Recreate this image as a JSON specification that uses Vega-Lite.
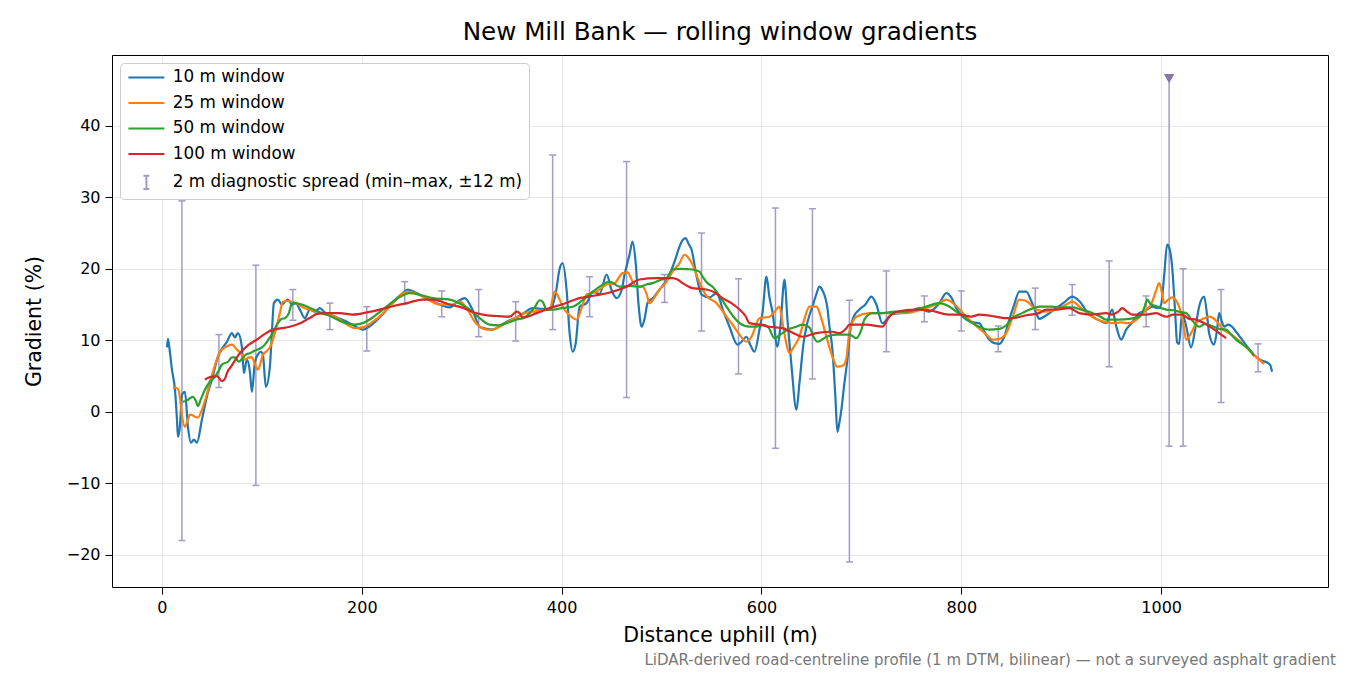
{
  "$schema": "https://vega.github.io/schema/vega-lite/v6.json",
  "title": {
    "text": "New Mill Bank — rolling window gradients",
    "fontSize": 24.6,
    "fontWeight": "normal",
    "color": "#000000",
    "anchor": "middle",
    "offset": 9
  },
  "width": 1216,
  "height": 532,
  "autosize": {"type": "none"},
  "padding": {"left": 112, "top": 55, "right": 22, "bottom": 88},
  "background": "#FFFFFF",
  "datasets": {
    "lines": [
      {"series": "10 m window", "d": 5, "g": 9.0},
      {"series": "10 m window", "d": 6, "g": 10.2},
      {"series": "10 m window", "d": 8, "g": 8.3},
      {"series": "10 m window", "d": 10, "g": 5.9},
      {"series": "10 m window", "d": 13, "g": 3.1},
      {"series": "10 m window", "d": 15, "g": -1.0},
      {"series": "10 m window", "d": 16, "g": -3.5},
      {"series": "10 m window", "d": 18, "g": -2.0},
      {"series": "10 m window", "d": 20, "g": 2.4},
      {"series": "10 m window", "d": 23, "g": 2.8},
      {"series": "10 m window", "d": 26, "g": -2.1},
      {"series": "10 m window", "d": 29, "g": -4.3},
      {"series": "10 m window", "d": 32, "g": -3.9},
      {"series": "10 m window", "d": 35, "g": -4.3},
      {"series": "10 m window", "d": 40, "g": -1.1},
      {"series": "10 m window", "d": 46, "g": 2.7},
      {"series": "10 m window", "d": 50, "g": 4.5},
      {"series": "10 m window", "d": 56, "g": 7.7},
      {"series": "10 m window", "d": 60, "g": 8.8},
      {"series": "10 m window", "d": 65, "g": 9.8},
      {"series": "10 m window", "d": 70, "g": 11.0},
      {"series": "10 m window", "d": 73, "g": 10.4},
      {"series": "10 m window", "d": 76, "g": 11.0},
      {"series": "10 m window", "d": 80, "g": 9.1},
      {"series": "10 m window", "d": 82, "g": 5.4},
      {"series": "10 m window", "d": 85, "g": 7.3},
      {"series": "10 m window", "d": 88, "g": 5.6},
      {"series": "10 m window", "d": 90, "g": 2.8},
      {"series": "10 m window", "d": 93, "g": 6.9},
      {"series": "10 m window", "d": 96, "g": 8.0},
      {"series": "10 m window", "d": 99, "g": 8.4},
      {"series": "10 m window", "d": 101, "g": 8.0},
      {"series": "10 m window", "d": 104, "g": 3.5},
      {"series": "10 m window", "d": 108, "g": 6.3},
      {"series": "10 m window", "d": 110, "g": 11.0},
      {"series": "10 m window", "d": 112, "g": 15.2},
      {"series": "10 m window", "d": 116, "g": 15.7},
      {"series": "10 m window", "d": 120, "g": 15.0},
      {"series": "10 m window", "d": 123, "g": 15.4},
      {"series": "10 m window", "d": 126, "g": 15.7},
      {"series": "10 m window", "d": 130, "g": 15.0},
      {"series": "10 m window", "d": 134, "g": 15.2},
      {"series": "10 m window", "d": 138, "g": 14.3},
      {"series": "10 m window", "d": 143, "g": 13.1},
      {"series": "10 m window", "d": 148, "g": 14.3},
      {"series": "10 m window", "d": 153, "g": 14.0},
      {"series": "10 m window", "d": 158, "g": 14.5},
      {"series": "10 m window", "d": 163, "g": 13.9},
      {"series": "10 m window", "d": 168, "g": 13.6},
      {"series": "10 m window", "d": 175, "g": 13.2},
      {"series": "10 m window", "d": 185, "g": 12.6},
      {"series": "10 m window", "d": 193, "g": 12.0},
      {"series": "10 m window", "d": 201, "g": 11.5},
      {"series": "10 m window", "d": 210, "g": 12.2},
      {"series": "10 m window", "d": 220, "g": 13.5},
      {"series": "10 m window", "d": 230, "g": 15.2},
      {"series": "10 m window", "d": 240, "g": 16.5},
      {"series": "10 m window", "d": 246, "g": 17.1},
      {"series": "10 m window", "d": 255, "g": 16.6},
      {"series": "10 m window", "d": 265, "g": 15.8},
      {"series": "10 m window", "d": 278, "g": 15.0},
      {"series": "10 m window", "d": 288, "g": 14.6},
      {"series": "10 m window", "d": 295, "g": 15.3},
      {"series": "10 m window", "d": 303, "g": 15.9},
      {"series": "10 m window", "d": 310, "g": 14.5},
      {"series": "10 m window", "d": 318, "g": 11.9},
      {"series": "10 m window", "d": 325, "g": 11.6},
      {"series": "10 m window", "d": 331, "g": 11.5},
      {"series": "10 m window", "d": 338, "g": 12.0},
      {"series": "10 m window", "d": 345, "g": 12.6},
      {"series": "10 m window", "d": 355, "g": 13.2},
      {"series": "10 m window", "d": 363, "g": 13.9},
      {"series": "10 m window", "d": 371, "g": 14.5},
      {"series": "10 m window", "d": 380, "g": 14.4},
      {"series": "10 m window", "d": 388, "g": 14.3},
      {"series": "10 m window", "d": 394, "g": 16.5},
      {"series": "10 m window", "d": 398, "g": 20.0},
      {"series": "10 m window", "d": 401, "g": 20.8},
      {"series": "10 m window", "d": 405, "g": 17.0},
      {"series": "10 m window", "d": 408, "g": 11.0},
      {"series": "10 m window", "d": 411, "g": 8.4},
      {"series": "10 m window", "d": 414, "g": 9.5},
      {"series": "10 m window", "d": 418, "g": 14.7},
      {"series": "10 m window", "d": 425, "g": 15.2},
      {"series": "10 m window", "d": 431, "g": 16.8},
      {"series": "10 m window", "d": 438, "g": 16.5},
      {"series": "10 m window", "d": 445, "g": 19.2},
      {"series": "10 m window", "d": 450, "g": 17.0},
      {"series": "10 m window", "d": 455, "g": 15.9},
      {"series": "10 m window", "d": 460, "g": 17.0},
      {"series": "10 m window", "d": 463, "g": 19.2},
      {"series": "10 m window", "d": 468, "g": 22.0},
      {"series": "10 m window", "d": 471, "g": 23.8},
      {"series": "10 m window", "d": 474, "g": 21.0},
      {"series": "10 m window", "d": 477, "g": 15.0},
      {"series": "10 m window", "d": 480, "g": 11.9},
      {"series": "10 m window", "d": 483, "g": 13.0},
      {"series": "10 m window", "d": 486, "g": 15.2},
      {"series": "10 m window", "d": 492, "g": 16.0},
      {"series": "10 m window", "d": 498, "g": 17.1},
      {"series": "10 m window", "d": 503, "g": 18.0},
      {"series": "10 m window", "d": 508, "g": 19.2},
      {"series": "10 m window", "d": 513, "g": 21.0},
      {"series": "10 m window", "d": 518, "g": 23.1},
      {"series": "10 m window", "d": 521, "g": 24.0},
      {"series": "10 m window", "d": 524, "g": 24.3},
      {"series": "10 m window", "d": 527, "g": 23.5},
      {"series": "10 m window", "d": 530, "g": 22.7},
      {"series": "10 m window", "d": 535, "g": 19.0},
      {"series": "10 m window", "d": 540, "g": 16.4},
      {"series": "10 m window", "d": 548, "g": 16.0},
      {"series": "10 m window", "d": 555, "g": 16.6},
      {"series": "10 m window", "d": 562, "g": 14.0},
      {"series": "10 m window", "d": 568, "g": 11.9},
      {"series": "10 m window", "d": 576, "g": 9.4},
      {"series": "10 m window", "d": 580, "g": 9.8},
      {"series": "10 m window", "d": 585, "g": 10.5},
      {"series": "10 m window", "d": 589, "g": 9.3},
      {"series": "10 m window", "d": 593, "g": 8.4},
      {"series": "10 m window", "d": 598, "g": 11.5},
      {"series": "10 m window", "d": 601, "g": 13.8},
      {"series": "10 m window", "d": 605, "g": 18.9},
      {"series": "10 m window", "d": 608, "g": 16.0},
      {"series": "10 m window", "d": 611, "g": 14.0},
      {"series": "10 m window", "d": 616, "g": 9.1},
      {"series": "10 m window", "d": 619, "g": 12.0},
      {"series": "10 m window", "d": 623, "g": 18.5},
      {"series": "10 m window", "d": 626, "g": 12.9},
      {"series": "10 m window", "d": 630, "g": 6.5},
      {"series": "10 m window", "d": 635, "g": 0.3},
      {"series": "10 m window", "d": 638, "g": 4.0},
      {"series": "10 m window", "d": 642, "g": 9.5},
      {"series": "10 m window", "d": 645, "g": 11.9},
      {"series": "10 m window", "d": 648, "g": 13.5},
      {"series": "10 m window", "d": 651, "g": 14.7},
      {"series": "10 m window", "d": 655, "g": 16.5},
      {"series": "10 m window", "d": 658, "g": 17.5},
      {"series": "10 m window", "d": 661, "g": 17.0},
      {"series": "10 m window", "d": 666, "g": 14.5},
      {"series": "10 m window", "d": 668, "g": 12.0},
      {"series": "10 m window", "d": 671, "g": 8.7},
      {"series": "10 m window", "d": 674, "g": 2.0},
      {"series": "10 m window", "d": 676, "g": -2.8},
      {"series": "10 m window", "d": 678, "g": -1.5},
      {"series": "10 m window", "d": 680, "g": 0.3},
      {"series": "10 m window", "d": 683, "g": 4.0},
      {"series": "10 m window", "d": 686, "g": 7.3},
      {"series": "10 m window", "d": 689, "g": 11.5},
      {"series": "10 m window", "d": 693, "g": 13.5},
      {"series": "10 m window", "d": 698, "g": 14.3},
      {"series": "10 m window", "d": 704, "g": 15.0},
      {"series": "10 m window", "d": 710, "g": 16.1},
      {"series": "10 m window", "d": 715, "g": 15.0},
      {"series": "10 m window", "d": 721, "g": 12.4},
      {"series": "10 m window", "d": 730, "g": 13.6},
      {"series": "10 m window", "d": 738, "g": 13.8},
      {"series": "10 m window", "d": 748, "g": 14.0},
      {"series": "10 m window", "d": 758, "g": 14.5},
      {"series": "10 m window", "d": 768, "g": 14.0},
      {"series": "10 m window", "d": 778, "g": 15.2},
      {"series": "10 m window", "d": 785, "g": 16.6},
      {"series": "10 m window", "d": 790, "g": 16.0},
      {"series": "10 m window", "d": 795, "g": 14.5},
      {"series": "10 m window", "d": 800, "g": 13.5},
      {"series": "10 m window", "d": 805, "g": 12.9},
      {"series": "10 m window", "d": 812, "g": 12.5},
      {"series": "10 m window", "d": 818, "g": 12.4},
      {"series": "10 m window", "d": 822, "g": 11.5},
      {"series": "10 m window", "d": 828, "g": 10.1},
      {"series": "10 m window", "d": 833, "g": 9.6},
      {"series": "10 m window", "d": 838, "g": 9.5},
      {"series": "10 m window", "d": 843, "g": 10.5},
      {"series": "10 m window", "d": 848, "g": 12.9},
      {"series": "10 m window", "d": 853, "g": 15.0},
      {"series": "10 m window", "d": 858, "g": 16.8},
      {"series": "10 m window", "d": 865, "g": 16.8},
      {"series": "10 m window", "d": 870, "g": 15.5},
      {"series": "10 m window", "d": 875, "g": 13.8},
      {"series": "10 m window", "d": 878, "g": 13.0},
      {"series": "10 m window", "d": 885, "g": 13.5},
      {"series": "10 m window", "d": 895, "g": 14.5},
      {"series": "10 m window", "d": 903, "g": 15.3},
      {"series": "10 m window", "d": 911, "g": 16.1},
      {"series": "10 m window", "d": 918, "g": 15.5},
      {"series": "10 m window", "d": 928, "g": 13.6},
      {"series": "10 m window", "d": 935, "g": 13.0},
      {"series": "10 m window", "d": 941, "g": 12.6},
      {"series": "10 m window", "d": 945, "g": 12.4},
      {"series": "10 m window", "d": 951, "g": 14.3},
      {"series": "10 m window", "d": 955, "g": 12.0},
      {"series": "10 m window", "d": 960, "g": 10.1},
      {"series": "10 m window", "d": 965, "g": 11.5},
      {"series": "10 m window", "d": 971, "g": 12.5},
      {"series": "10 m window", "d": 978, "g": 13.8},
      {"series": "10 m window", "d": 985, "g": 14.2},
      {"series": "10 m window", "d": 991, "g": 14.7},
      {"series": "10 m window", "d": 997, "g": 14.5},
      {"series": "10 m window", "d": 1000, "g": 15.0},
      {"series": "10 m window", "d": 1003, "g": 19.0},
      {"series": "10 m window", "d": 1006, "g": 23.4},
      {"series": "10 m window", "d": 1008, "g": 23.0},
      {"series": "10 m window", "d": 1011, "g": 20.3},
      {"series": "10 m window", "d": 1014, "g": 14.0},
      {"series": "10 m window", "d": 1016, "g": 9.7},
      {"series": "10 m window", "d": 1018, "g": 9.5},
      {"series": "10 m window", "d": 1021, "g": 13.8},
      {"series": "10 m window", "d": 1025, "g": 12.0},
      {"series": "10 m window", "d": 1030, "g": 9.0},
      {"series": "10 m window", "d": 1034, "g": 11.5},
      {"series": "10 m window", "d": 1038, "g": 14.7},
      {"series": "10 m window", "d": 1043, "g": 16.1},
      {"series": "10 m window", "d": 1046, "g": 13.5},
      {"series": "10 m window", "d": 1048, "g": 11.0},
      {"series": "10 m window", "d": 1053, "g": 9.4},
      {"series": "10 m window", "d": 1056, "g": 11.5},
      {"series": "10 m window", "d": 1058, "g": 13.8},
      {"series": "10 m window", "d": 1061, "g": 12.5},
      {"series": "10 m window", "d": 1063, "g": 11.9},
      {"series": "10 m window", "d": 1067, "g": 12.2},
      {"series": "10 m window", "d": 1071, "g": 11.9},
      {"series": "10 m window", "d": 1076, "g": 11.0},
      {"series": "10 m window", "d": 1081, "g": 10.1},
      {"series": "10 m window", "d": 1088, "g": 8.8},
      {"series": "10 m window", "d": 1095, "g": 7.7},
      {"series": "10 m window", "d": 1100, "g": 7.2},
      {"series": "10 m window", "d": 1106, "g": 6.9},
      {"series": "10 m window", "d": 1109, "g": 6.6},
      {"series": "10 m window", "d": 1111, "g": 5.6},

      {"series": "25 m window", "d": 11, "g": 3.3},
      {"series": "25 m window", "d": 13, "g": 3.4},
      {"series": "25 m window", "d": 16, "g": 3.2},
      {"series": "25 m window", "d": 18, "g": 2.0},
      {"series": "25 m window", "d": 20, "g": -0.5},
      {"series": "25 m window", "d": 23, "g": -2.1},
      {"series": "25 m window", "d": 25, "g": -1.5},
      {"series": "25 m window", "d": 28, "g": -0.4},
      {"series": "25 m window", "d": 31, "g": -0.5},
      {"series": "25 m window", "d": 33, "g": -0.7},
      {"series": "25 m window", "d": 36, "g": -0.8},
      {"series": "25 m window", "d": 40, "g": 0.3},
      {"series": "25 m window", "d": 44, "g": 2.0},
      {"series": "25 m window", "d": 48, "g": 4.1},
      {"series": "25 m window", "d": 53, "g": 6.5},
      {"series": "25 m window", "d": 58, "g": 8.4},
      {"series": "25 m window", "d": 63, "g": 9.0},
      {"series": "25 m window", "d": 70, "g": 9.4},
      {"series": "25 m window", "d": 75, "g": 8.7},
      {"series": "25 m window", "d": 80, "g": 8.0},
      {"series": "25 m window", "d": 83, "g": 7.3},
      {"series": "25 m window", "d": 87, "g": 7.6},
      {"series": "25 m window", "d": 90, "g": 7.6},
      {"series": "25 m window", "d": 93, "g": 6.7},
      {"series": "25 m window", "d": 96, "g": 5.9},
      {"series": "25 m window", "d": 99, "g": 7.0},
      {"series": "25 m window", "d": 101, "g": 8.0},
      {"series": "25 m window", "d": 105, "g": 8.5},
      {"series": "25 m window", "d": 108, "g": 9.0},
      {"series": "25 m window", "d": 113, "g": 11.0},
      {"series": "25 m window", "d": 118, "g": 13.8},
      {"series": "25 m window", "d": 121, "g": 15.4},
      {"series": "25 m window", "d": 126, "g": 15.5},
      {"series": "25 m window", "d": 130, "g": 15.4},
      {"series": "25 m window", "d": 137, "g": 15.0},
      {"series": "25 m window", "d": 143, "g": 14.5},
      {"series": "25 m window", "d": 150, "g": 14.2},
      {"series": "25 m window", "d": 160, "g": 13.8},
      {"series": "25 m window", "d": 173, "g": 13.3},
      {"series": "25 m window", "d": 183, "g": 12.4},
      {"series": "25 m window", "d": 193, "g": 11.7},
      {"series": "25 m window", "d": 201, "g": 11.8},
      {"series": "25 m window", "d": 210, "g": 12.5},
      {"series": "25 m window", "d": 220, "g": 13.6},
      {"series": "25 m window", "d": 230, "g": 15.0},
      {"series": "25 m window", "d": 238, "g": 16.2},
      {"series": "25 m window", "d": 245, "g": 16.8},
      {"series": "25 m window", "d": 255, "g": 16.5},
      {"series": "25 m window", "d": 265, "g": 15.8},
      {"series": "25 m window", "d": 278, "g": 15.0},
      {"series": "25 m window", "d": 290, "g": 15.0},
      {"series": "25 m window", "d": 298, "g": 15.4},
      {"series": "25 m window", "d": 305, "g": 14.5},
      {"series": "25 m window", "d": 312, "g": 12.8},
      {"series": "25 m window", "d": 318, "g": 11.9},
      {"series": "25 m window", "d": 325, "g": 11.5},
      {"series": "25 m window", "d": 331, "g": 11.5},
      {"series": "25 m window", "d": 338, "g": 11.9},
      {"series": "25 m window", "d": 345, "g": 12.5},
      {"series": "25 m window", "d": 355, "g": 13.2},
      {"series": "25 m window", "d": 363, "g": 13.8},
      {"series": "25 m window", "d": 371, "g": 14.0},
      {"series": "25 m window", "d": 380, "g": 14.2},
      {"series": "25 m window", "d": 388, "g": 14.3},
      {"series": "25 m window", "d": 393, "g": 16.8},
      {"series": "25 m window", "d": 397, "g": 16.0},
      {"series": "25 m window", "d": 401, "g": 14.7},
      {"series": "25 m window", "d": 408, "g": 13.5},
      {"series": "25 m window", "d": 415, "g": 12.9},
      {"series": "25 m window", "d": 420, "g": 14.5},
      {"series": "25 m window", "d": 425, "g": 16.4},
      {"series": "25 m window", "d": 435, "g": 16.8},
      {"series": "25 m window", "d": 445, "g": 17.8},
      {"series": "25 m window", "d": 453, "g": 18.0},
      {"series": "25 m window", "d": 461, "g": 19.4},
      {"series": "25 m window", "d": 466, "g": 19.5},
      {"series": "25 m window", "d": 471, "g": 18.2},
      {"series": "25 m window", "d": 476, "g": 17.5},
      {"series": "25 m window", "d": 481, "g": 17.5},
      {"series": "25 m window", "d": 485, "g": 16.5},
      {"series": "25 m window", "d": 488, "g": 15.2},
      {"series": "25 m window", "d": 493, "g": 16.0},
      {"series": "25 m window", "d": 498, "g": 17.1},
      {"series": "25 m window", "d": 505, "g": 18.2},
      {"series": "25 m window", "d": 511, "g": 19.6},
      {"series": "25 m window", "d": 518, "g": 20.8},
      {"series": "25 m window", "d": 523, "g": 22.0},
      {"series": "25 m window", "d": 527, "g": 21.5},
      {"series": "25 m window", "d": 531, "g": 20.6},
      {"series": "25 m window", "d": 537, "g": 18.4},
      {"series": "25 m window", "d": 545, "g": 16.2},
      {"series": "25 m window", "d": 555, "g": 15.2},
      {"series": "25 m window", "d": 565, "g": 13.3},
      {"series": "25 m window", "d": 572, "g": 12.0},
      {"series": "25 m window", "d": 578, "g": 10.8},
      {"series": "25 m window", "d": 585, "g": 9.8},
      {"series": "25 m window", "d": 590, "g": 10.5},
      {"series": "25 m window", "d": 598, "g": 13.1},
      {"series": "25 m window", "d": 608, "g": 13.3},
      {"series": "25 m window", "d": 613, "g": 14.0},
      {"series": "25 m window", "d": 618, "g": 14.7},
      {"series": "25 m window", "d": 621, "g": 12.5},
      {"series": "25 m window", "d": 625, "g": 9.5},
      {"series": "25 m window", "d": 628, "g": 8.2},
      {"series": "25 m window", "d": 632, "g": 9.0},
      {"series": "25 m window", "d": 638, "g": 10.5},
      {"series": "25 m window", "d": 643, "g": 13.0},
      {"series": "25 m window", "d": 648, "g": 14.7},
      {"series": "25 m window", "d": 655, "g": 14.7},
      {"series": "25 m window", "d": 660, "g": 13.0},
      {"series": "25 m window", "d": 665, "g": 10.5},
      {"series": "25 m window", "d": 671, "g": 7.7},
      {"series": "25 m window", "d": 676, "g": 6.3},
      {"series": "25 m window", "d": 682, "g": 6.5},
      {"series": "25 m window", "d": 685, "g": 7.5},
      {"series": "25 m window", "d": 688, "g": 11.2},
      {"series": "25 m window", "d": 695, "g": 13.3},
      {"series": "25 m window", "d": 708, "g": 13.8},
      {"series": "25 m window", "d": 720, "g": 13.8},
      {"series": "25 m window", "d": 730, "g": 13.8},
      {"series": "25 m window", "d": 745, "g": 13.8},
      {"series": "25 m window", "d": 760, "g": 14.3},
      {"series": "25 m window", "d": 775, "g": 15.0},
      {"series": "25 m window", "d": 785, "g": 15.7},
      {"series": "25 m window", "d": 795, "g": 14.8},
      {"series": "25 m window", "d": 805, "g": 13.3},
      {"series": "25 m window", "d": 815, "g": 12.0},
      {"series": "25 m window", "d": 825, "g": 10.8},
      {"series": "25 m window", "d": 831, "g": 10.1},
      {"series": "25 m window", "d": 838, "g": 10.2},
      {"series": "25 m window", "d": 845, "g": 11.0},
      {"series": "25 m window", "d": 852, "g": 13.5},
      {"series": "25 m window", "d": 858, "g": 15.7},
      {"series": "25 m window", "d": 865, "g": 15.5},
      {"series": "25 m window", "d": 875, "g": 14.3},
      {"series": "25 m window", "d": 885, "g": 14.0},
      {"series": "25 m window", "d": 895, "g": 14.3},
      {"series": "25 m window", "d": 905, "g": 15.0},
      {"series": "25 m window", "d": 911, "g": 15.4},
      {"series": "25 m window", "d": 920, "g": 14.5},
      {"series": "25 m window", "d": 931, "g": 13.3},
      {"series": "25 m window", "d": 940, "g": 12.7},
      {"series": "25 m window", "d": 951, "g": 12.4},
      {"series": "25 m window", "d": 960, "g": 12.5},
      {"series": "25 m window", "d": 968, "g": 12.4},
      {"series": "25 m window", "d": 978, "g": 13.2},
      {"series": "25 m window", "d": 985, "g": 14.3},
      {"series": "25 m window", "d": 990, "g": 15.0},
      {"series": "25 m window", "d": 995, "g": 17.0},
      {"series": "25 m window", "d": 998, "g": 18.0},
      {"series": "25 m window", "d": 1001, "g": 16.5},
      {"series": "25 m window", "d": 1003, "g": 15.2},
      {"series": "25 m window", "d": 1008, "g": 15.8},
      {"series": "25 m window", "d": 1011, "g": 16.0},
      {"series": "25 m window", "d": 1018, "g": 14.7},
      {"series": "25 m window", "d": 1022, "g": 12.5},
      {"series": "25 m window", "d": 1025, "g": 10.1},
      {"series": "25 m window", "d": 1030, "g": 11.0},
      {"series": "25 m window", "d": 1035, "g": 12.4},
      {"series": "25 m window", "d": 1042, "g": 13.0},
      {"series": "25 m window", "d": 1048, "g": 13.3},
      {"series": "25 m window", "d": 1056, "g": 12.6},
      {"series": "25 m window", "d": 1062, "g": 11.5},
      {"series": "25 m window", "d": 1068, "g": 11.0},
      {"series": "25 m window", "d": 1075, "g": 10.3},
      {"series": "25 m window", "d": 1083, "g": 9.3},
      {"series": "25 m window", "d": 1091, "g": 8.2},
      {"series": "25 m window", "d": 1098, "g": 7.3},
      {"series": "25 m window", "d": 1103, "g": 6.7},

      {"series": "50 m window", "d": 21, "g": 1.4},
      {"series": "50 m window", "d": 25, "g": 1.6},
      {"series": "50 m window", "d": 28, "g": 1.9},
      {"series": "50 m window", "d": 31, "g": 2.1},
      {"series": "50 m window", "d": 34, "g": 1.5},
      {"series": "50 m window", "d": 36, "g": 0.8},
      {"series": "50 m window", "d": 39, "g": 1.8},
      {"series": "50 m window", "d": 43, "g": 3.1},
      {"series": "50 m window", "d": 48, "g": 4.2},
      {"series": "50 m window", "d": 53, "g": 4.9},
      {"series": "50 m window", "d": 57, "g": 5.8},
      {"series": "50 m window", "d": 60, "g": 6.6},
      {"series": "50 m window", "d": 66, "g": 7.0},
      {"series": "50 m window", "d": 70, "g": 7.6},
      {"series": "50 m window", "d": 73, "g": 7.6},
      {"series": "50 m window", "d": 77, "g": 7.0},
      {"series": "50 m window", "d": 80, "g": 7.4},
      {"series": "50 m window", "d": 84, "g": 8.0},
      {"series": "50 m window", "d": 88, "g": 8.2},
      {"series": "50 m window", "d": 92, "g": 8.5},
      {"series": "50 m window", "d": 96, "g": 8.7},
      {"series": "50 m window", "d": 100, "g": 9.0},
      {"series": "50 m window", "d": 103, "g": 9.4},
      {"series": "50 m window", "d": 107, "g": 10.2},
      {"series": "50 m window", "d": 110, "g": 10.8},
      {"series": "50 m window", "d": 116, "g": 12.4},
      {"series": "50 m window", "d": 120, "g": 13.0},
      {"series": "50 m window", "d": 123, "g": 13.1},
      {"series": "50 m window", "d": 127, "g": 13.8},
      {"series": "50 m window", "d": 129, "g": 14.8},
      {"series": "50 m window", "d": 131, "g": 15.2},
      {"series": "50 m window", "d": 140, "g": 15.0},
      {"series": "50 m window", "d": 150, "g": 14.4},
      {"series": "50 m window", "d": 160, "g": 13.8},
      {"series": "50 m window", "d": 170, "g": 13.3},
      {"series": "50 m window", "d": 180, "g": 12.6},
      {"series": "50 m window", "d": 193, "g": 12.2},
      {"series": "50 m window", "d": 201, "g": 12.4},
      {"series": "50 m window", "d": 211, "g": 13.2},
      {"series": "50 m window", "d": 221, "g": 14.3},
      {"series": "50 m window", "d": 235, "g": 15.8},
      {"series": "50 m window", "d": 248, "g": 16.6},
      {"series": "50 m window", "d": 260, "g": 16.3},
      {"series": "50 m window", "d": 271, "g": 15.9},
      {"series": "50 m window", "d": 288, "g": 15.7},
      {"series": "50 m window", "d": 300, "g": 15.0},
      {"series": "50 m window", "d": 308, "g": 14.3},
      {"series": "50 m window", "d": 318, "g": 13.1},
      {"series": "50 m window", "d": 328, "g": 12.2},
      {"series": "50 m window", "d": 337, "g": 12.1},
      {"series": "50 m window", "d": 345, "g": 12.4},
      {"series": "50 m window", "d": 355, "g": 12.9},
      {"series": "50 m window", "d": 363, "g": 13.2},
      {"series": "50 m window", "d": 368, "g": 13.8},
      {"series": "50 m window", "d": 373, "g": 14.6},
      {"series": "50 m window", "d": 378, "g": 15.6},
      {"series": "50 m window", "d": 381, "g": 15.4},
      {"series": "50 m window", "d": 385, "g": 14.3},
      {"series": "50 m window", "d": 392, "g": 14.3},
      {"series": "50 m window", "d": 400, "g": 14.5},
      {"series": "50 m window", "d": 411, "g": 14.7},
      {"series": "50 m window", "d": 420, "g": 15.5},
      {"series": "50 m window", "d": 428, "g": 16.4},
      {"series": "50 m window", "d": 438, "g": 17.5},
      {"series": "50 m window", "d": 448, "g": 18.2},
      {"series": "50 m window", "d": 458, "g": 17.5},
      {"series": "50 m window", "d": 468, "g": 17.6},
      {"series": "50 m window", "d": 478, "g": 17.5},
      {"series": "50 m window", "d": 485, "g": 17.8},
      {"series": "50 m window", "d": 491, "g": 18.0},
      {"series": "50 m window", "d": 500, "g": 18.5},
      {"series": "50 m window", "d": 505, "g": 18.7},
      {"series": "50 m window", "d": 511, "g": 19.9},
      {"series": "50 m window", "d": 520, "g": 20.0},
      {"series": "50 m window", "d": 531, "g": 19.9},
      {"series": "50 m window", "d": 538, "g": 19.6},
      {"series": "50 m window", "d": 541, "g": 18.9},
      {"series": "50 m window", "d": 546, "g": 18.0},
      {"series": "50 m window", "d": 551, "g": 17.5},
      {"series": "50 m window", "d": 558, "g": 16.2},
      {"series": "50 m window", "d": 565, "g": 14.7},
      {"series": "50 m window", "d": 572, "g": 13.3},
      {"series": "50 m window", "d": 578, "g": 12.4},
      {"series": "50 m window", "d": 588, "g": 11.9},
      {"series": "50 m window", "d": 595, "g": 11.9},
      {"series": "50 m window", "d": 601, "g": 12.2},
      {"series": "50 m window", "d": 607, "g": 11.8},
      {"series": "50 m window", "d": 613, "g": 10.3},
      {"series": "50 m window", "d": 621, "g": 11.0},
      {"series": "50 m window", "d": 628, "g": 11.6},
      {"series": "50 m window", "d": 635, "g": 11.9},
      {"series": "50 m window", "d": 641, "g": 12.2},
      {"series": "50 m window", "d": 648, "g": 11.8},
      {"series": "50 m window", "d": 652, "g": 10.5},
      {"series": "50 m window", "d": 656, "g": 9.8},
      {"series": "50 m window", "d": 665, "g": 10.5},
      {"series": "50 m window", "d": 675, "g": 10.8},
      {"series": "50 m window", "d": 688, "g": 10.8},
      {"series": "50 m window", "d": 695, "g": 10.3},
      {"series": "50 m window", "d": 700, "g": 11.5},
      {"series": "50 m window", "d": 703, "g": 12.9},
      {"series": "50 m window", "d": 711, "g": 13.8},
      {"series": "50 m window", "d": 721, "g": 13.8},
      {"series": "50 m window", "d": 733, "g": 14.0},
      {"series": "50 m window", "d": 745, "g": 14.0},
      {"series": "50 m window", "d": 760, "g": 14.5},
      {"series": "50 m window", "d": 778, "g": 15.2},
      {"series": "50 m window", "d": 787, "g": 14.8},
      {"series": "50 m window", "d": 795, "g": 14.0},
      {"series": "50 m window", "d": 803, "g": 13.2},
      {"series": "50 m window", "d": 811, "g": 12.4},
      {"series": "50 m window", "d": 818, "g": 11.9},
      {"series": "50 m window", "d": 828, "g": 11.5},
      {"series": "50 m window", "d": 838, "g": 11.6},
      {"series": "50 m window", "d": 845, "g": 12.1},
      {"series": "50 m window", "d": 851, "g": 13.1},
      {"series": "50 m window", "d": 861, "g": 13.8},
      {"series": "50 m window", "d": 870, "g": 14.4},
      {"series": "50 m window", "d": 878, "g": 14.7},
      {"series": "50 m window", "d": 890, "g": 14.7},
      {"series": "50 m window", "d": 901, "g": 14.6},
      {"series": "50 m window", "d": 911, "g": 14.6},
      {"series": "50 m window", "d": 920, "g": 14.3},
      {"series": "50 m window", "d": 928, "g": 14.0},
      {"series": "50 m window", "d": 938, "g": 13.4},
      {"series": "50 m window", "d": 945, "g": 12.9},
      {"series": "50 m window", "d": 958, "g": 12.9},
      {"series": "50 m window", "d": 968, "g": 13.0},
      {"series": "50 m window", "d": 978, "g": 13.3},
      {"series": "50 m window", "d": 983, "g": 14.5},
      {"series": "50 m window", "d": 986, "g": 15.7},
      {"series": "50 m window", "d": 990, "g": 15.0},
      {"series": "50 m window", "d": 995, "g": 14.8},
      {"series": "50 m window", "d": 1000, "g": 14.5},
      {"series": "50 m window", "d": 1005, "g": 14.3},
      {"series": "50 m window", "d": 1012, "g": 14.2},
      {"series": "50 m window", "d": 1018, "g": 14.0},
      {"series": "50 m window", "d": 1025, "g": 13.8},
      {"series": "50 m window", "d": 1031, "g": 12.8},
      {"series": "50 m window", "d": 1038, "g": 11.9},
      {"series": "50 m window", "d": 1044, "g": 12.3},
      {"series": "50 m window", "d": 1051, "g": 12.0},
      {"series": "50 m window", "d": 1058, "g": 11.6},
      {"series": "50 m window", "d": 1065, "g": 11.5},
      {"series": "50 m window", "d": 1070, "g": 10.8},
      {"series": "50 m window", "d": 1075, "g": 10.1},
      {"series": "50 m window", "d": 1082, "g": 9.4},
      {"series": "50 m window", "d": 1088, "g": 8.7},
      {"series": "50 m window", "d": 1093, "g": 7.8},

      {"series": "100 m window", "d": 43, "g": 4.5},
      {"series": "100 m window", "d": 47, "g": 4.8},
      {"series": "100 m window", "d": 50, "g": 4.9},
      {"series": "100 m window", "d": 55, "g": 5.0},
      {"series": "100 m window", "d": 60, "g": 4.3},
      {"series": "100 m window", "d": 63, "g": 4.6},
      {"series": "100 m window", "d": 65, "g": 5.4},
      {"series": "100 m window", "d": 70, "g": 6.5},
      {"series": "100 m window", "d": 78, "g": 8.2},
      {"series": "100 m window", "d": 86, "g": 9.3},
      {"series": "100 m window", "d": 95, "g": 10.1},
      {"series": "100 m window", "d": 103, "g": 10.9},
      {"series": "100 m window", "d": 111, "g": 11.5},
      {"series": "100 m window", "d": 120, "g": 11.7},
      {"series": "100 m window", "d": 128, "g": 11.9},
      {"series": "100 m window", "d": 137, "g": 12.3},
      {"series": "100 m window", "d": 145, "g": 12.9},
      {"series": "100 m window", "d": 150, "g": 13.3},
      {"series": "100 m window", "d": 155, "g": 13.7},
      {"series": "100 m window", "d": 165, "g": 13.8},
      {"series": "100 m window", "d": 178, "g": 13.8},
      {"series": "100 m window", "d": 191, "g": 13.6},
      {"series": "100 m window", "d": 205, "g": 13.9},
      {"series": "100 m window", "d": 218, "g": 14.3},
      {"series": "100 m window", "d": 232, "g": 14.8},
      {"series": "100 m window", "d": 245, "g": 15.2},
      {"series": "100 m window", "d": 261, "g": 15.7},
      {"series": "100 m window", "d": 270, "g": 15.7},
      {"series": "100 m window", "d": 278, "g": 15.5},
      {"series": "100 m window", "d": 288, "g": 15.0},
      {"series": "100 m window", "d": 300, "g": 14.6},
      {"series": "100 m window", "d": 310, "g": 14.0},
      {"series": "100 m window", "d": 321, "g": 13.6},
      {"series": "100 m window", "d": 335, "g": 13.4},
      {"series": "100 m window", "d": 348, "g": 13.3},
      {"series": "100 m window", "d": 355, "g": 14.0},
      {"series": "100 m window", "d": 358, "g": 13.8},
      {"series": "100 m window", "d": 361, "g": 13.2},
      {"series": "100 m window", "d": 375, "g": 13.8},
      {"series": "100 m window", "d": 388, "g": 14.5},
      {"series": "100 m window", "d": 400, "g": 15.0},
      {"series": "100 m window", "d": 418, "g": 15.9},
      {"series": "100 m window", "d": 435, "g": 16.3},
      {"series": "100 m window", "d": 451, "g": 16.8},
      {"series": "100 m window", "d": 465, "g": 17.5},
      {"series": "100 m window", "d": 478, "g": 18.5},
      {"series": "100 m window", "d": 495, "g": 18.7},
      {"series": "100 m window", "d": 511, "g": 18.7},
      {"series": "100 m window", "d": 516, "g": 18.5},
      {"series": "100 m window", "d": 521, "g": 18.0},
      {"series": "100 m window", "d": 526, "g": 17.6},
      {"series": "100 m window", "d": 531, "g": 17.3},
      {"series": "100 m window", "d": 538, "g": 17.2},
      {"series": "100 m window", "d": 545, "g": 17.1},
      {"series": "100 m window", "d": 553, "g": 16.7},
      {"series": "100 m window", "d": 561, "g": 15.9},
      {"series": "100 m window", "d": 570, "g": 15.2},
      {"series": "100 m window", "d": 578, "g": 14.3},
      {"series": "100 m window", "d": 584, "g": 13.4},
      {"series": "100 m window", "d": 588, "g": 12.4},
      {"series": "100 m window", "d": 598, "g": 12.2},
      {"series": "100 m window", "d": 608, "g": 11.9},
      {"series": "100 m window", "d": 621, "g": 11.7},
      {"series": "100 m window", "d": 635, "g": 10.8},
      {"series": "100 m window", "d": 641, "g": 10.5},
      {"series": "100 m window", "d": 655, "g": 11.0},
      {"series": "100 m window", "d": 671, "g": 11.2},
      {"series": "100 m window", "d": 678, "g": 11.0},
      {"series": "100 m window", "d": 685, "g": 11.7},
      {"series": "100 m window", "d": 688, "g": 12.2},
      {"series": "100 m window", "d": 705, "g": 12.2},
      {"series": "100 m window", "d": 721, "g": 11.9},
      {"series": "100 m window", "d": 728, "g": 13.3},
      {"series": "100 m window", "d": 735, "g": 14.0},
      {"series": "100 m window", "d": 755, "g": 14.3},
      {"series": "100 m window", "d": 768, "g": 14.2},
      {"series": "100 m window", "d": 788, "g": 13.6},
      {"series": "100 m window", "d": 798, "g": 13.6},
      {"series": "100 m window", "d": 810, "g": 13.3},
      {"series": "100 m window", "d": 818, "g": 13.6},
      {"series": "100 m window", "d": 830, "g": 13.4},
      {"series": "100 m window", "d": 845, "g": 13.1},
      {"series": "100 m window", "d": 851, "g": 13.1},
      {"series": "100 m window", "d": 865, "g": 13.5},
      {"series": "100 m window", "d": 878, "g": 13.8},
      {"series": "100 m window", "d": 885, "g": 14.3},
      {"series": "100 m window", "d": 895, "g": 14.3},
      {"series": "100 m window", "d": 908, "g": 14.5},
      {"series": "100 m window", "d": 918, "g": 13.8},
      {"series": "100 m window", "d": 930, "g": 13.6},
      {"series": "100 m window", "d": 945, "g": 13.8},
      {"series": "100 m window", "d": 951, "g": 13.6},
      {"series": "100 m window", "d": 957, "g": 14.0},
      {"series": "100 m window", "d": 961, "g": 14.5},
      {"series": "100 m window", "d": 966, "g": 14.0},
      {"series": "100 m window", "d": 971, "g": 13.6},
      {"series": "100 m window", "d": 985, "g": 13.6},
      {"series": "100 m window", "d": 995, "g": 13.8},
      {"series": "100 m window", "d": 1005, "g": 13.3},
      {"series": "100 m window", "d": 1012, "g": 13.6},
      {"series": "100 m window", "d": 1021, "g": 13.6},
      {"series": "100 m window", "d": 1028, "g": 13.0},
      {"series": "100 m window", "d": 1035, "g": 12.9},
      {"series": "100 m window", "d": 1043, "g": 12.4},
      {"series": "100 m window", "d": 1051, "g": 11.7},
      {"series": "100 m window", "d": 1058, "g": 11.0},
      {"series": "100 m window", "d": 1065, "g": 10.3}
    ],
    "spread": [
      {"series": "2 m diagnostic spread (min–max, ±12 m)", "d": 20, "lo": -18.0, "hi": 29.5, "clipped": false},
      {"series": "2 m diagnostic spread (min–max, ±12 m)", "d": 57, "lo": 3.4, "hi": 10.8, "clipped": false},
      {"series": "2 m diagnostic spread (min–max, ±12 m)", "d": 94, "lo": -10.3, "hi": 20.5, "clipped": false},
      {"series": "2 m diagnostic spread (min–max, ±12 m)", "d": 131, "lo": 12.8, "hi": 17.1, "clipped": false},
      {"series": "2 m diagnostic spread (min–max, ±12 m)", "d": 168, "lo": 11.5, "hi": 15.2, "clipped": false},
      {"series": "2 m diagnostic spread (min–max, ±12 m)", "d": 205, "lo": 8.5, "hi": 14.7, "clipped": false},
      {"series": "2 m diagnostic spread (min–max, ±12 m)", "d": 243, "lo": 15.1, "hi": 18.2, "clipped": false},
      {"series": "2 m diagnostic spread (min–max, ±12 m)", "d": 280, "lo": 13.3, "hi": 16.9, "clipped": false},
      {"series": "2 m diagnostic spread (min–max, ±12 m)", "d": 317, "lo": 10.5, "hi": 17.1, "clipped": false},
      {"series": "2 m diagnostic spread (min–max, ±12 m)", "d": 354, "lo": 9.9, "hi": 15.4, "clipped": false},
      {"series": "2 m diagnostic spread (min–max, ±12 m)", "d": 391, "lo": 11.5, "hi": 35.9, "clipped": false},
      {"series": "2 m diagnostic spread (min–max, ±12 m)", "d": 428, "lo": 13.3, "hi": 18.9, "clipped": false},
      {"series": "2 m diagnostic spread (min–max, ±12 m)", "d": 465, "lo": 2.0, "hi": 35.0, "clipped": false},
      {"series": "2 m diagnostic spread (min–max, ±12 m)", "d": 503, "lo": 15.3, "hi": 19.2, "clipped": false},
      {"series": "2 m diagnostic spread (min–max, ±12 m)", "d": 540, "lo": 11.3, "hi": 25.0, "clipped": false},
      {"series": "2 m diagnostic spread (min–max, ±12 m)", "d": 577, "lo": 5.3, "hi": 18.6, "clipped": false},
      {"series": "2 m diagnostic spread (min–max, ±12 m)", "d": 614, "lo": -5.1, "hi": 28.5, "clipped": false},
      {"series": "2 m diagnostic spread (min–max, ±12 m)", "d": 651, "lo": 4.6, "hi": 28.4, "clipped": false},
      {"series": "2 m diagnostic spread (min–max, ±12 m)", "d": 688, "lo": -21.0, "hi": 15.6, "clipped": false},
      {"series": "2 m diagnostic spread (min–max, ±12 m)", "d": 725, "lo": 8.4, "hi": 19.7, "clipped": false},
      {"series": "2 m diagnostic spread (min–max, ±12 m)", "d": 763, "lo": 12.6, "hi": 16.2, "clipped": false},
      {"series": "2 m diagnostic spread (min–max, ±12 m)", "d": 800, "lo": 11.3, "hi": 16.9, "clipped": false},
      {"series": "2 m diagnostic spread (min–max, ±12 m)", "d": 837, "lo": 8.4, "hi": 12.0, "clipped": false},
      {"series": "2 m diagnostic spread (min–max, ±12 m)", "d": 874, "lo": 11.5, "hi": 17.3, "clipped": false},
      {"series": "2 m diagnostic spread (min–max, ±12 m)", "d": 911, "lo": 13.5, "hi": 17.8, "clipped": false},
      {"series": "2 m diagnostic spread (min–max, ±12 m)", "d": 948, "lo": 6.3, "hi": 21.1, "clipped": false},
      {"series": "2 m diagnostic spread (min–max, ±12 m)", "d": 985, "lo": 11.9, "hi": 16.2, "clipped": false},
      {"series": "2 m diagnostic spread (min–max, ±12 m)", "d": 1008, "lo": -4.8, "hi": 46.6, "clipped": true},
      {"series": "2 m diagnostic spread (min–max, ±12 m)", "d": 1022, "lo": -4.8, "hi": 20.0, "clipped": false},
      {"series": "2 m diagnostic spread (min–max, ±12 m)", "d": 1060, "lo": 1.3, "hi": 17.1, "clipped": false},
      {"series": "2 m diagnostic spread (min–max, ±12 m)", "d": 1097, "lo": 5.6, "hi": 9.5, "clipped": false}
    ]
  },
  "layer": [
    {
      "data": {"name": "spread"},
      "mark": {"type": "rule", "strokeWidth": 1.5},
      "encoding": {
        "x": {"field": "d", "type": "quantitative"},
        "y": {"field": "lo", "type": "quantitative"},
        "y2": {"field": "hi"},
        "color": {"field": "series", "type": "nominal"}
      }
    },
    {
      "data": {"name": "spread"},
      "mark": {"type": "tick", "orient": "horizontal", "size": 7, "thickness": 1.5, "color": "#a59ac7", "opacity": 1},
      "encoding": {
        "x": {"field": "d", "type": "quantitative"},
        "y": {"field": "lo", "type": "quantitative"}
      }
    },
    {
      "data": {"name": "spread"},
      "transform": [{"filter": "!datum.clipped"}],
      "mark": {"type": "tick", "orient": "horizontal", "size": 7, "thickness": 1.5, "color": "#a59ac7", "opacity": 1},
      "encoding": {
        "x": {"field": "d", "type": "quantitative"},
        "y": {"field": "hi", "type": "quantitative"}
      }
    },
    {
      "data": {"name": "spread"},
      "transform": [{"filter": "datum.clipped"}],
      "mark": {"type": "point", "shape": "triangle-down", "filled": true, "size": 110, "color": "#8577a8", "opacity": 1},
      "encoding": {
        "x": {"field": "d", "type": "quantitative"},
        "y": {"field": "hi", "type": "quantitative"}
      }
    },
    {
      "data": {"name": "lines"},
      "mark": {"type": "line", "strokeWidth": 2.2, "interpolate": "monotone"},
      "encoding": {
        "x": {"field": "d", "type": "quantitative"},
        "y": {"field": "g", "type": "quantitative"},
        "color": {"field": "series", "type": "nominal"}
      }
    },
    {
      "data": {"values": [{"note": "LiDAR-derived road-centreline profile (1 m DTM, bilinear) — not a surveyed asphalt gradient"}]},
      "mark": {"type": "text", "align": "right", "baseline": "middle", "dx": 8, "dy": 73, "fontSize": 15, "color": "#777777"},
      "encoding": {
        "x": {"datum": 1167},
        "y": {"datum": -24.5},
        "text": {"field": "note"}
      }
    }
  ],
  "encoding": {
    "x": {
      "scale": {"domain": [-50, 1167], "nice": false, "zero": false},
      "axis": {"title": "Distance uphill (m)", "values": [0, 200, 400, 600, 800, 1000], "format": "d", "titlePadding": 10}
    },
    "y": {
      "scale": {"domain": [-24.5, 49.9], "nice": false, "zero": false},
      "axis": {
        "title": "Gradient (%)",
        "values": [-20, -10, 0, 10, 20, 30, 40],
        "labelExpr": "replace(datum.label, '-', '−')",
        "titlePadding": 22
      }
    },
    "color": {
      "scale": {
        "domain": ["10 m window", "25 m window", "50 m window", "100 m window", "2 m diagnostic spread (min–max, ±12 m)"],
        "range": ["#1f77b4", "#ff7f0e", "#2ca02c", "#d62728", "#a59ac7"]
      },
      "legend": {
        "title": null,
        "orient": "top-left",
        "offset": 8,
        "fillColor": "#ffffff",
        "strokeColor": "#cccccc",
        "cornerRadius": 4,
        "padding": 6,
        "labelFontSize": 16.8,
        "labelLimit": 600,
        "labelOffset": 18,
        "rowPadding": 7.5,
        "symbolSize": 144,
        "symbolOffset": 12,
        "symbolStrokeWidth": 2,
        "encode": {
          "symbols": {
            "update": {
              "shape": {"signal": "datum.index === 4 ? 'M0,-1.1V1.1M-0.5,-1.1H0.5M-0.5,1.1H0.5' : 'M-3,0H3'"},
              "fill": {"value": "transparent"},
              "strokeWidth": {"value": 2}
            }
          }
        }
      }
    }
  },
  "config": {
    "font": "DejaVu Sans",
    "view": {"stroke": "#000000", "strokeWidth": 1},
    "axis": {
      "domain": false,
      "grid": true,
      "gridColor": "#b0b0b0",
      "gridOpacity": 0.3,
      "gridWidth": 1,
      "tickColor": "#000000",
      "tickSize": 7,
      "tickWidth": 1,
      "labelColor": "#000000",
      "labelFontSize": 16,
      "labelPadding": 5,
      "titleColor": "#000000",
      "titleFontSize": 20.5,
      "titleFontWeight": "normal"
    },
    "legend": {"labelColor": "#000000"}
  }
}
